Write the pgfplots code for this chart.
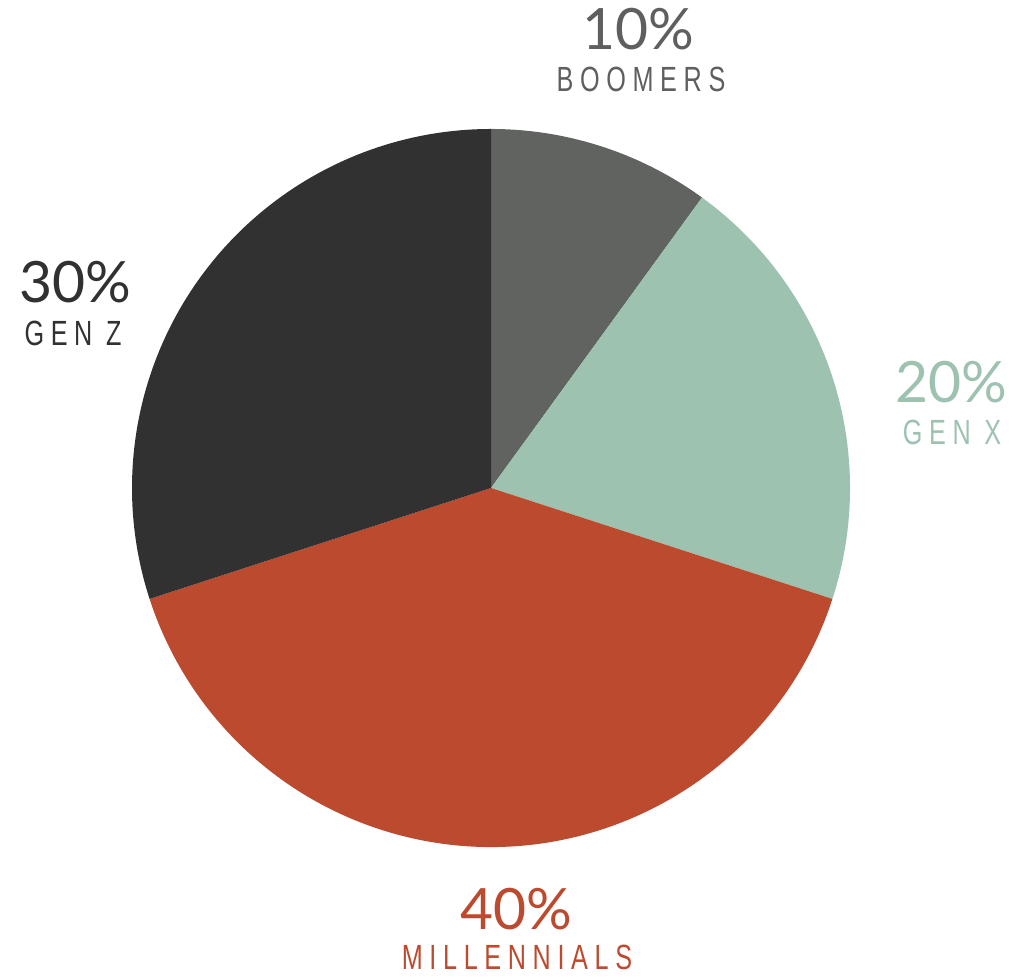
\documentclass[border=0pt]{standalone}
\usepackage{pgfplots}
\pgfplotsset{compat=1.18}
\usepackage{fontspec}
\setmainfont{Lato}
\newfontfamily\numfont{Lato}
\newfontfamily\labfont[FakeStretch=0.72, LetterSpace=19]{Liberation Sans}
\definecolor{cBoom}{HTML}{616361}
\definecolor{cGenX}{HTML}{9DC2B0}
\definecolor{cMill}{HTML}{BC4A2E}
\definecolor{cGenZ}{HTML}{313131}
\definecolor{tBoom}{HTML}{5F5F5F}
\begin{document}
\begin{tikzpicture}
\def\R{179.5pt}
\begin{axis}[
  width=517pt, height=488.5pt, scale only axis,
  xmin=0, xmax=1034, ymin=0, ymax=977,
  hide axis, clip=false,
  every node/.append style={inner sep=0pt},
]
% pie slices: values 10, 20, 40, 30 (percent), clockwise from top
\fill[cBoom] (axis cs:491,489) -- ++(90:\R) arc[start angle=90, delta angle={-3.6*10}, radius=\R] -- cycle;
\fill[cGenX] (axis cs:491,489) -- ++({90-3.6*10}:\R) arc[start angle={90-3.6*10}, delta angle={-3.6*20}, radius=\R] -- cycle;
\fill[cMill] (axis cs:491,489) -- ++({90-3.6*30}:\R) arc[start angle={90-3.6*30}, delta angle={-3.6*40}, radius=\R] -- cycle;
\fill[cGenZ] (axis cs:491,489) -- ++({90-3.6*70}:\R) arc[start angle={90-3.6*70}, delta angle={-3.6*30}, radius=\R] -- cycle;
% labels
\node[anchor=base, text=tBoom, font=\numfont\fontsize{28.5}{31}\selectfont] at (axis cs:638,927) {10\%};
\node[anchor=base, text=tBoom, font=\labfont\fontsize{17.5}{20}\selectfont] at (axis cs:641,885) {BOOMERS};
\node[anchor=base, text=cGenX, font=\numfont\fontsize{28.5}{31}\selectfont] at (axis cs:951,574) {20\%};
\node[anchor=base, text=cGenX, font=\labfont\fontsize{17.5}{20}\selectfont] at (axis cs:952,532) {GEN X};
\node[anchor=base, text=cGenZ, font=\numfont\fontsize{28.5}{31}\selectfont] at (axis cs:75,674) {30\%};
\node[anchor=base, text=cGenZ, font=\labfont\fontsize{17.5}{20}\selectfont] at (axis cs:73,631) {GEN Z};
\node[anchor=base, text=cMill, font=\numfont\fontsize{28.5}{31}\selectfont] at (axis cs:516,47) {40\%};
\node[anchor=base, text=cMill, font=\labfont\fontsize{17.5}{20}\selectfont] at (axis cs:517,7) {MILLENNIALS};
\end{axis}
\pgfresetboundingbox
\useasboundingbox (current axis.south west) rectangle (current axis.north east);
\end{tikzpicture}
\end{document}
